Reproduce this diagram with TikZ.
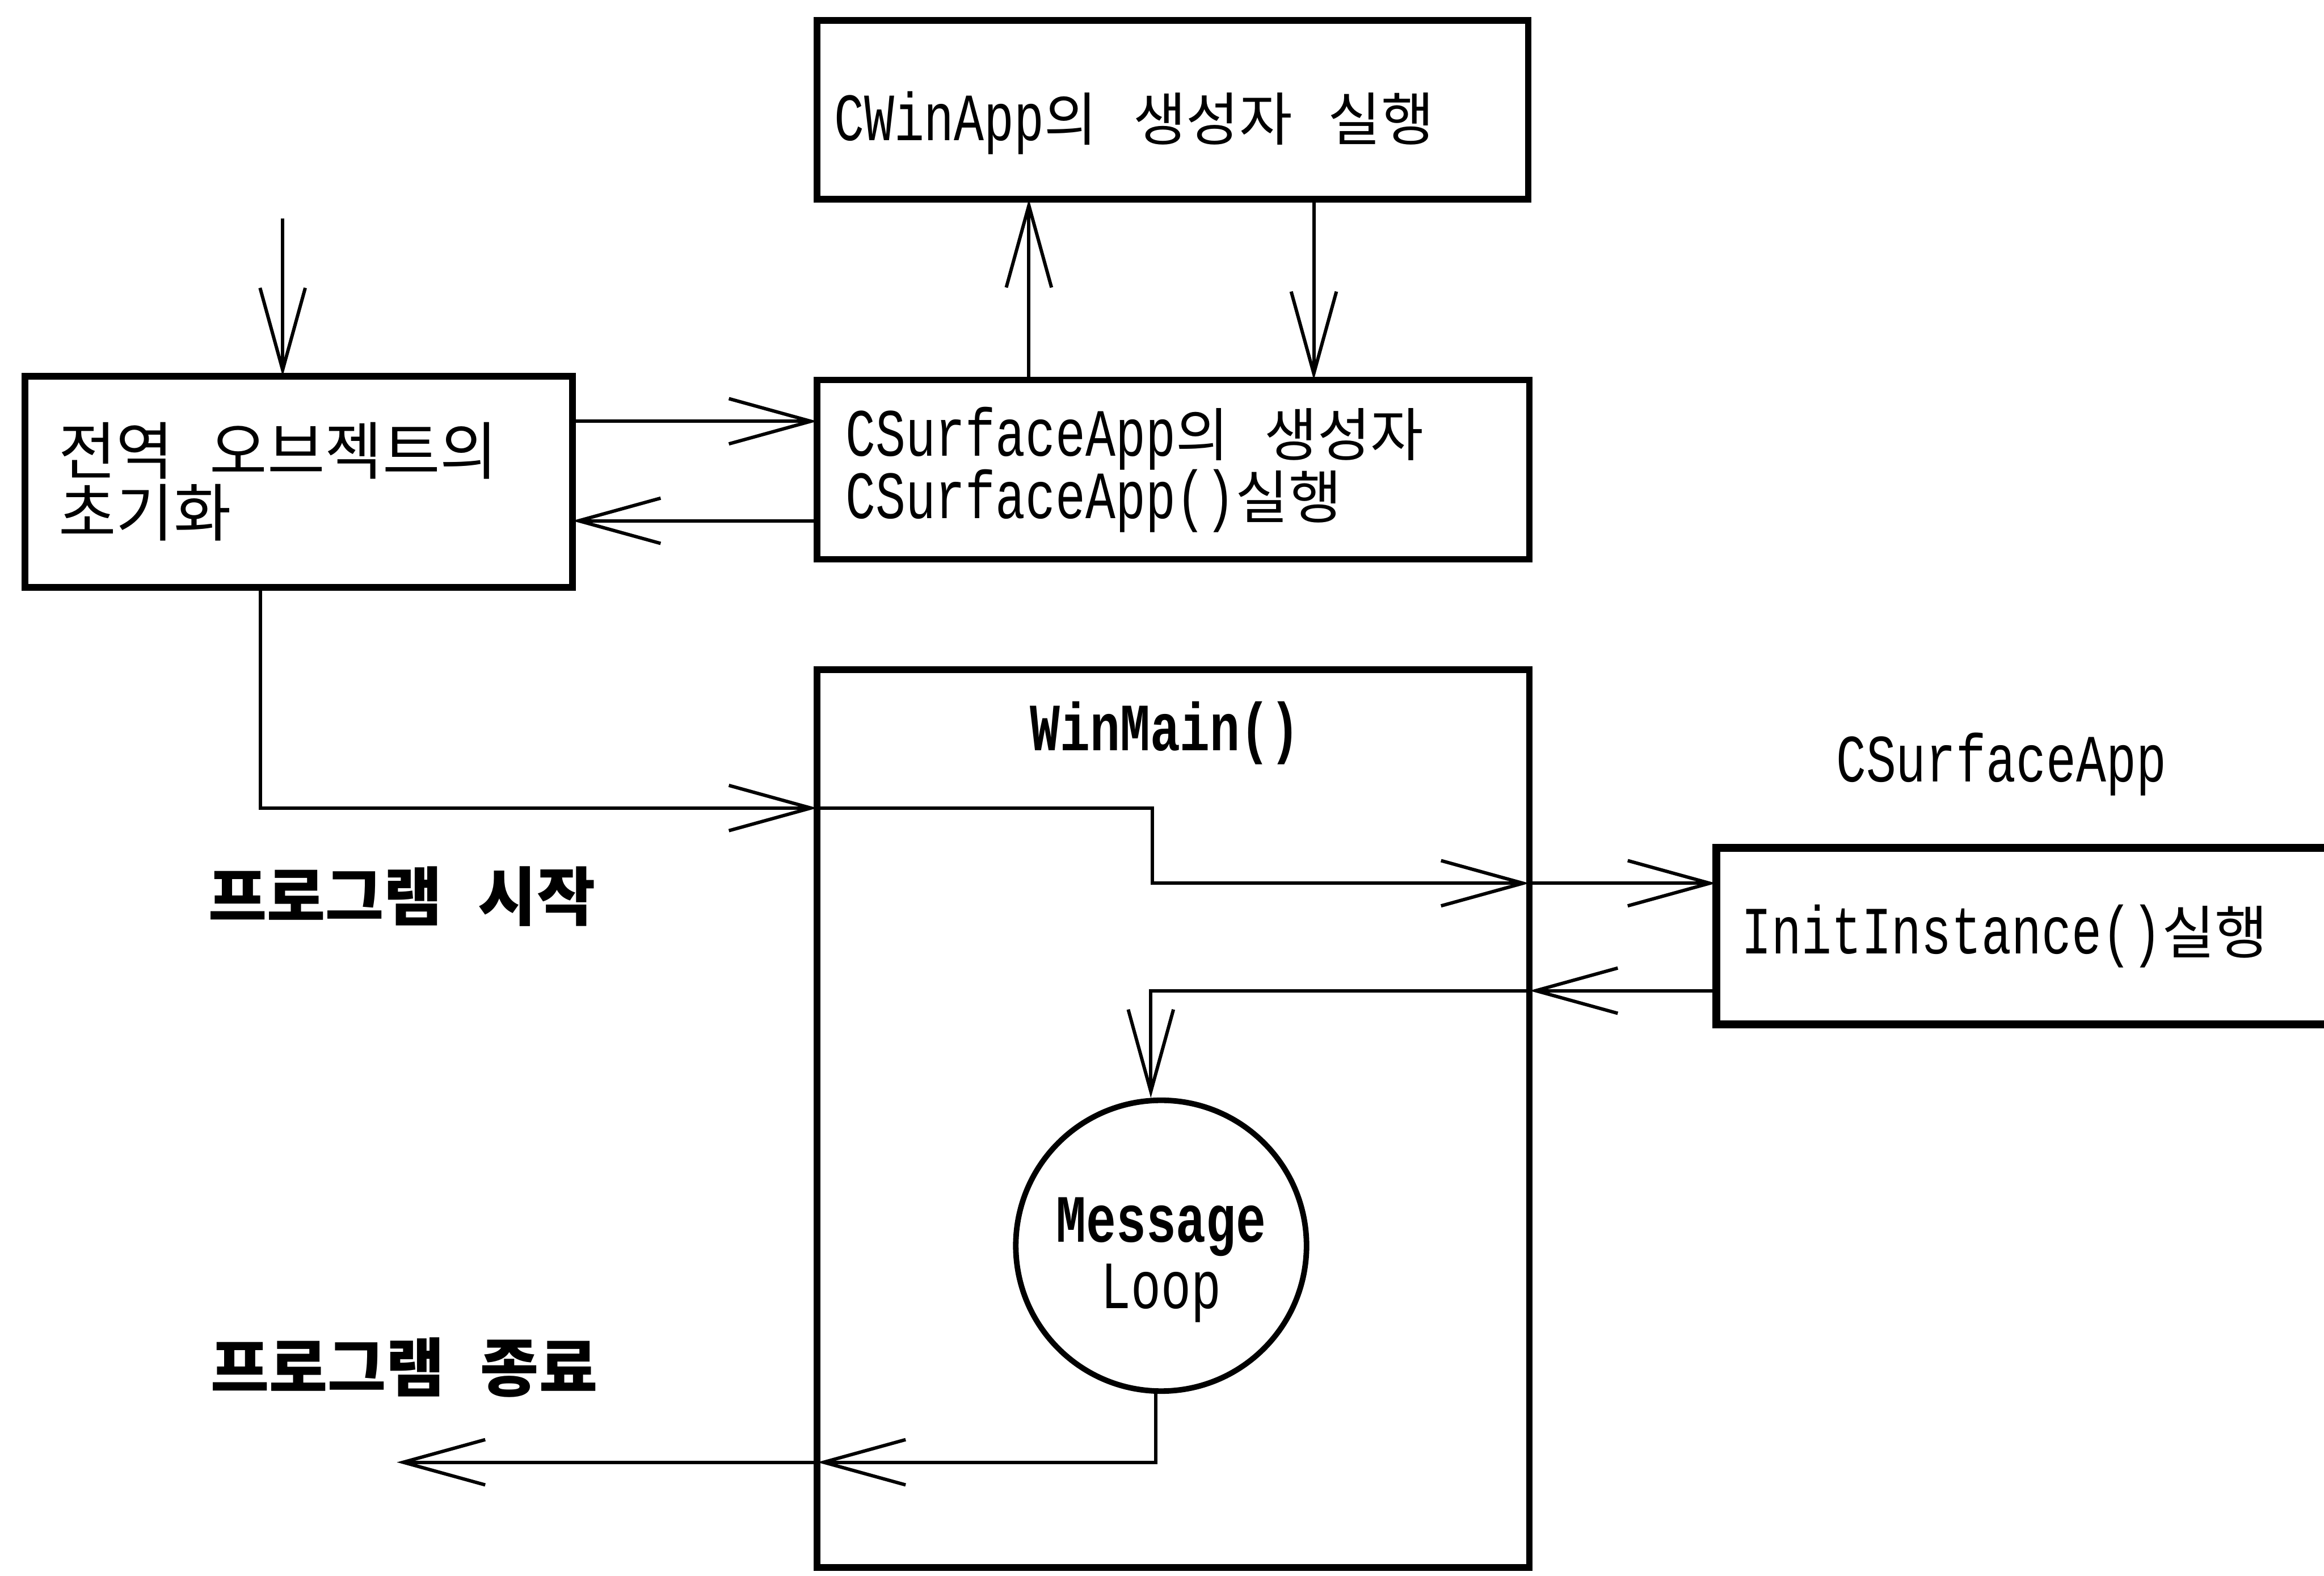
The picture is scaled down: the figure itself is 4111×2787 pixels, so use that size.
\documentclass[tikz,border=0pt]{standalone}
\usepackage{fontspec}
\usetikzlibrary{arrows.meta}
% Latin: narrow monospaced serif; Korean: Noto Sans CJK KR
\newfontfamily\latfam{Liberation Mono}[FakeStretch=0.74]
\newfontfamily\hanfam{Noto Sans CJK KR}
\newcommand\latn[1]{{\latfam\fontsize{34}{30}\selectfont #1}}
\newcommand\latbf[1]{{\latfam\bfseries\fontsize{34}{30}\selectfont #1}}
\newcommand\hang[2][29]{{\hanfam\fontsize{#1}{30}\selectfont #2}}
\newcommand\hangbf[1]{{\hanfam\bfseries\fontsize{32}{30}\selectfont #1}}
\newcommand\gap{\hspace{18pt}}
\begin{document}
\begin{tikzpicture}[x=0.01cm, y=-0.01cm,
  box/.style={draw, rectangle, line width=3.4pt, inner ysep=0pt, outer sep=0pt,
    align=left, font={\fontsize{29}{30}\selectfont\lineskiplimit=-100pt}},
  loopc/.style={draw, circle, line width=2.8pt, minimum size=5.14cm, inner sep=0pt},
  wire/.style={line width=1.7pt, -{Straight Barb[length=1.45cm, width=0.8cm]}},
  lbl/.style={inner sep=0pt, align=center,
    font={\fontsize{29}{29.5}\selectfont\lineskiplimit=-100pt}}
]
\fill[white] (0,0) rectangle (4111,2787);
\clip (0,0) rectangle (4111,2787);

% boxes
\node[box, text width=8.48cm, inner xsep=0.6cm, minimum height=3.73cm,
  font={\fontsize{29}{31}\selectfont\lineskiplimit=-100pt}] (A) at (528,852)
  {\hang[31.5]{전역\gap 오브젝트의}\\\hang[31.5]{초기화}};
\node[box, text width=11.97cm, inner xsep=0.3cm, minimum height=3.16cm,
  text height=30.8pt, text depth=0pt] (B) at (2074.5,194)
  {\latn{CWinApp}\hang{의\gap 생성자\gap 실행}};
\node[box, text width=11.59cm, inner xsep=0.5cm, minimum height=3.17cm,
  font={\fontsize{29}{31.5}\selectfont\lineskiplimit=-100pt}] (C) at (2075.5,830.5)
  {\latn{CSurfaceApp}\hang{의\gap 생성자}\\\latn{CSurfaceApp()}\hang{실행}};
\node[box, minimum width=12.59cm, minimum height=15.87cm] (W) at (2075.5,1978.5) {};
\node[box, line width=4pt, text width=12.69cm, inner xsep=0.45cm, minimum height=3.11cm] (D) at (3715.5,1655.5)
  {\latn{InitInstance()}\hang{실행}};
\node[loopc] (L) at (2054,2203) {};

% labels
\node[lbl, font={\fontsize{29}{33.5}\selectfont\lineskiplimit=-100pt}] (ml) at (2054,2228)
  {\latbf{Message}\\\latn{Loop}};
\node[lbl] (wm) at (2061,1296) {\latbf{WinMain()}};
\node[lbl] (sa) at (3540,1352) {\latn{CSurfaceApp}};
\node[lbl, anchor=west] (st) at (368,1585) {\hangbf{프로그램\gap 시작}};
\node[lbl, anchor=west] (en) at (372,2418) {\hangbf{프로그램\gap 종료}};

% reference lines for the connectors
\coordinate (inTop) at (500,386);
\coordinate (yAC) at (0,745);
\coordinate (yCA) at (0,921);
\coordinate (xCB) at (1820,0);
\coordinate (xBC) at (2324,0);
\coordinate (xS) at (461,0);
\coordinate (yS) at (0,1429);
\coordinate (xK) at (2038,0);
\coordinate (yI) at (0,1562);
\coordinate (yR) at (0,1752);
\coordinate (yE) at (0,2586);
\coordinate (xE) at (702,0);

% connectors
\draw[wire] (inTop) -- (inTop |- A.north);
\draw[wire] (A.east |- yAC) -- (C.west |- yAC);
\draw[wire] (C.west |- yCA) -- (A.east |- yCA);
\draw[wire] (C.north -| xCB) -- (B.south -| xCB);
\draw[wire] (B.south -| xBC) -- (C.north -| xBC);
\draw[wire] (A.south -| xS) |- (W.west |- yS);
\draw[wire] (W.west |- yS) -| (xK |- yI) -- (W.east |- yI);
\draw[wire] (W.east |- yI) -- (D.west |- yI);
\draw[wire] (D.west |- yR) -- (W.east |- yR);
\draw[wire] (W.east |- yR) -| (L.94);
\draw[wire] (L.268) |- (W.west |- yE);
\draw[wire] (W.west |- yE) -- (xE |- yE);
\end{tikzpicture}
\end{document}
